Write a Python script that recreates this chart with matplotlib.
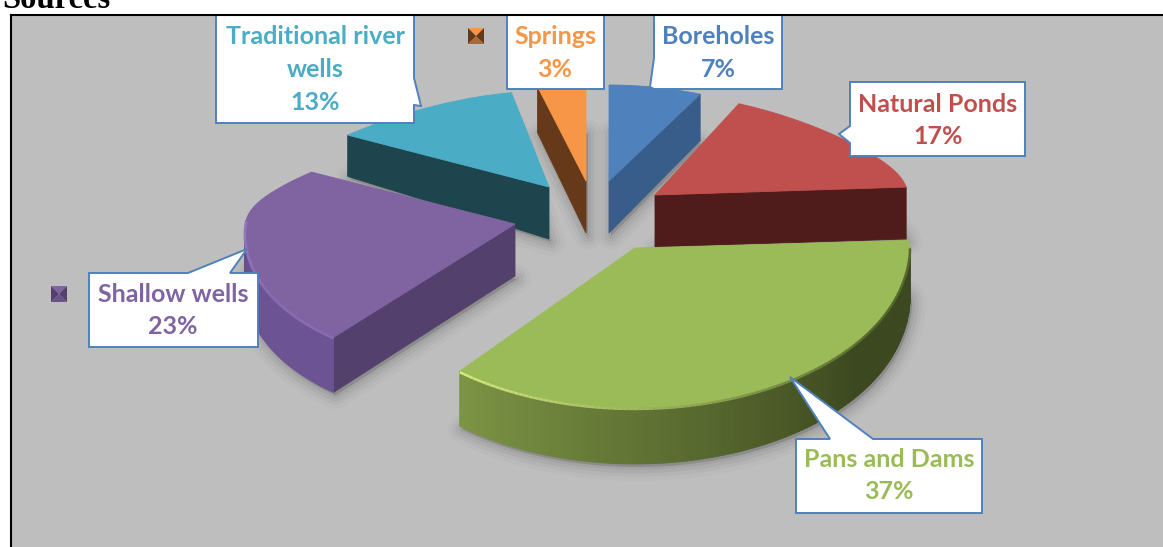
import numpy as np
import matplotlib
matplotlib.use("Agg")
import matplotlib.pyplot as plt
from matplotlib.patches import Polygon, Rectangle
from matplotlib.collections import LineCollection
from matplotlib.colors import to_rgb

# Water source shares, clockwise from twelve o'clock
sources = ["Boreholes", "Natural Ponds", "Pans and Dams", "Shallow wells",
           "Traditional river wells", "Springs"]
shares = [7, 17, 37, 23, 13, 3]
label_names = ["Boreholes", "Natural Ponds", "Pans and Dams", "Shallow wells",
               "Traditional river\nwells", "Springs"]

top_colors = ["#4f81bd", "#c0504d", "#9bbb59", "#8064a2", "#4bacc6", "#f79646"]
wall_colors = ["#385d8a", "#4f1c1b", "#3d4a20", "#54406c", "#1e444e", "#66391a"]
# Rounded wall shading: colour at the start and at the end of each slice's sweep
wall_shade = [None, None, ("#3c481f", "#7d9545"), ("#6c5393", "#604b85"), None, None]
rim_light = [None, None, ("#55682c", "#d6ec80"), ("#8a6db5", "#a98ade"), None, None]

# Slice tip in canvas pixels and per-slice projection tweaks
tips = [(609, 181), (655, 195), (635, 248), (515, 224), (549, 187), (586, 181)]
x_scale = [1.0, 0.92, 1.0, 0.98, 0.97, 1.25]
y_scale = [1.0, 1.05, 1.0, 1.0, 1.0, 1.0]
front_swell = [0, 0, 0, 0.073, 0, 0]
front_squash = [1, 1, 1, 0.92, 1, 1]
depth_taper = [6, 2, 4, 4, 20, 6]
paint_order = [5, 0, 4, 1, 3, 2]

label_centers = [(718, 53), (938, 120.5), (889, 475.5), (173, 310.5), (315, 69.5), (555, 53)]
BOX = "#4f81bd"
# Callout outlines: rectangle corners with the pointer spliced into one side
callouts = [
    [(654, 10), (782, 10), (782, 89), (654, 89), (650, 87), (654, 58)],
    [(850, 82), (1025, 82), (1025, 156), (850, 156), (850, 143), (839, 134), (850, 126)],
    [(796, 439), (830, 439), (790, 377), (873, 439), (982, 439), (982, 513), (796, 513)],
    [(89, 273), (188, 273), (247, 249), (230, 273), (258, 273), (258, 347), (89, 347)],
    [(216, 10), (414, 10), (414, 78), (421, 106), (414, 105), (414, 123), (216, 123)],
    [(507, 10), (604, 10), (604, 89), (507, 89)],
]
# Legend keys that stayed in the chart
key_squares = [(476, 36, 5), (59, 294, 3)]


def rim_offset(t, i):
    """Projected offset of a rim point from the slice tip at clockwise angle t."""
    c, s = np.cos(t), np.sin(t)
    a = 275 - 70 * np.clip(c, 0, None) ** 1.4
    a = a * (1 + front_swell[i] * np.clip(-c, 0, None))
    b = 128 - 32 * np.tanh(c / 0.25)
    yf = np.where(c < 0, front_squash[i], 1.0)
    return x_scale[i] * a * s, -y_scale[i] * yf * b * c


def mix(c0, c1, f):
    c0, c1 = np.array(to_rgb(c0)), np.array(to_rgb(c1))
    return tuple(c0 + (c1 - c0) * f)


fig = plt.figure(figsize=(11.63, 5.47), dpi=100, facecolor="white")
ax = fig.add_axes([0, 0, 1, 1])
ax.set_xlim(0, 1163)
ax.set_ylim(547, 0)
ax.axis("off")

ax.add_patch(Rectangle((11, 15), 1160, 540, fc="#bebebe", ec="none", zorder=2))

edges = np.cumsum([0] + shares) / sum(shares) * 2 * np.pi

for i in paint_order:
    t = np.linspace(edges[i], edges[i + 1], 120)
    tx, ty = tips[i]
    dx, dy = rim_offset(t, i)
    rx, ry = tx + dx, ty + dy
    d = 52 - depth_taper[i] * np.cos(t)
    z = 10 + paint_order.index(i) * 5

    # Soft contact shadow under the solid
    ring = np.r_[np.c_[rx, ry + d], [[tx, ty + 52]]]
    for lw, al in [(20, 0.02), (14, 0.03), (9, 0.04), (4, 0.05)]:
        ax.add_patch(Polygon(ring + [2, 3], closed=True, fc=(0, 0, 0, al), ec=(0, 0, 0, al),
                             lw=lw, joinstyle="round", zorder=z))

    # Cut faces along the radial edges that turn towards the viewer
    mx, my = np.mean(rx), np.mean(ry)
    for j in (0, -1):
        ex, ey = rx[j] - tx, ry[j] - ty
        side_top = ex * (my - ty) - ey * (mx - tx)
        side_down = ex * 1.0
        if side_top * side_down < 0:
            face = [(tx, ty), (rx[j], ry[j]), (rx[j], ry[j] + d[j]), (tx, ty + 52)]
            ax.add_patch(Polygon(face, closed=True, fc=wall_colors[i], ec=wall_colors[i],
                                 lw=0.6, zorder=z + 1))

    # Outer wall on the part of the rim that faces the viewer
    for k in range(len(t) - 1):
        if np.cos(t[k]) > 0.02:
            continue
        if wall_shade[i]:
            f = (t[k] - t[0]) / (t[-1] - t[0])
            col = mix(*wall_shade[i], np.clip((f - 0.3) / 0.7, 0, 1))
        else:
            col = wall_colors[i]
        quad = [(rx[k], ry[k]), (rx[k + 1], ry[k + 1]),
                (rx[k + 1], ry[k + 1] + d[k + 1]), (rx[k], ry[k] + d[k])]
        ax.add_patch(Polygon(quad, closed=True, fc=col, ec=col, lw=0.6, zorder=z + 2))

    # Top surface
    ax.add_patch(Polygon(np.r_[[[tx, ty]], np.c_[rx, ry]], closed=True,
                         fc=top_colors[i], ec=top_colors[i], lw=0.6, zorder=z + 3))

    # Bevel highlight where the top meets the rounded wall
    if rim_light[i]:
        pts = np.c_[rx, ry]
        front = np.cos(t) < 0.02
        segs = np.stack([pts[:-1], pts[1:]], axis=1)[front[:-1]]
        f = ((t[:-1] - t[0]) / (t[-1] - t[0]))[front[:-1]]
        cols = [mix(*rim_light[i], v) for v in np.clip((f - 0.25) / 0.75, 0, 1)]
        ax.add_collection(LineCollection(segs + [0, 1], colors=cols, linewidths=1.8, zorder=z + 4))

# Callouts carrying name and share
for i in range(len(sources)):
    ax.add_patch(Polygon(callouts[i], closed=True, fc="white", ec=BOX, lw=1.4,
                         joinstyle="miter", zorder=60))
    cx, cy = label_centers[i]
    ax.text(cx, cy, f"{label_names[i]}\n{shares[i]}%", family="Lato", weight="bold",
            fontsize=18, color=top_colors[i], ha="center", va="center",
            linespacing=1.5, zorder=61)

# Pyramid-bevelled legend keys
for kx, ky, idx in key_squares:
    h = 8
    c, n, s, w, e = (kx, ky), (kx - h, ky - h), (kx + h, ky + h), (kx - h, ky + h), (kx + h, ky - h)
    ax.add_patch(Polygon([n, e, c], fc=top_colors[idx], zorder=62))
    ax.add_patch(Polygon([w, s, c], fc=mix(top_colors[idx], wall_colors[idx], 0.5), zorder=62))
    ax.add_patch(Polygon([n, w, c], fc=wall_colors[idx], zorder=62))
    ax.add_patch(Polygon([e, s, c], fc=wall_colors[idx], zorder=62))

# White page above the chart, then the frame and the heading
ax.add_patch(Rectangle((0, 0), 1163, 14, fc="white", ec="none", zorder=65))
ax.plot([11, 11], [547, 15], color="black", lw=1.5, zorder=70, solid_capstyle="projecting")
ax.plot([11, 1163], [15, 15], color="black", lw=1.5, zorder=70, solid_capstyle="projecting")
ax.text(2, 8, "Sources", family="Liberation Serif", weight="bold", fontsize=23.5,
        va="baseline", ha="left", color="black", zorder=66)

fig.savefig("out.png", dpi=100, facecolor="white")
